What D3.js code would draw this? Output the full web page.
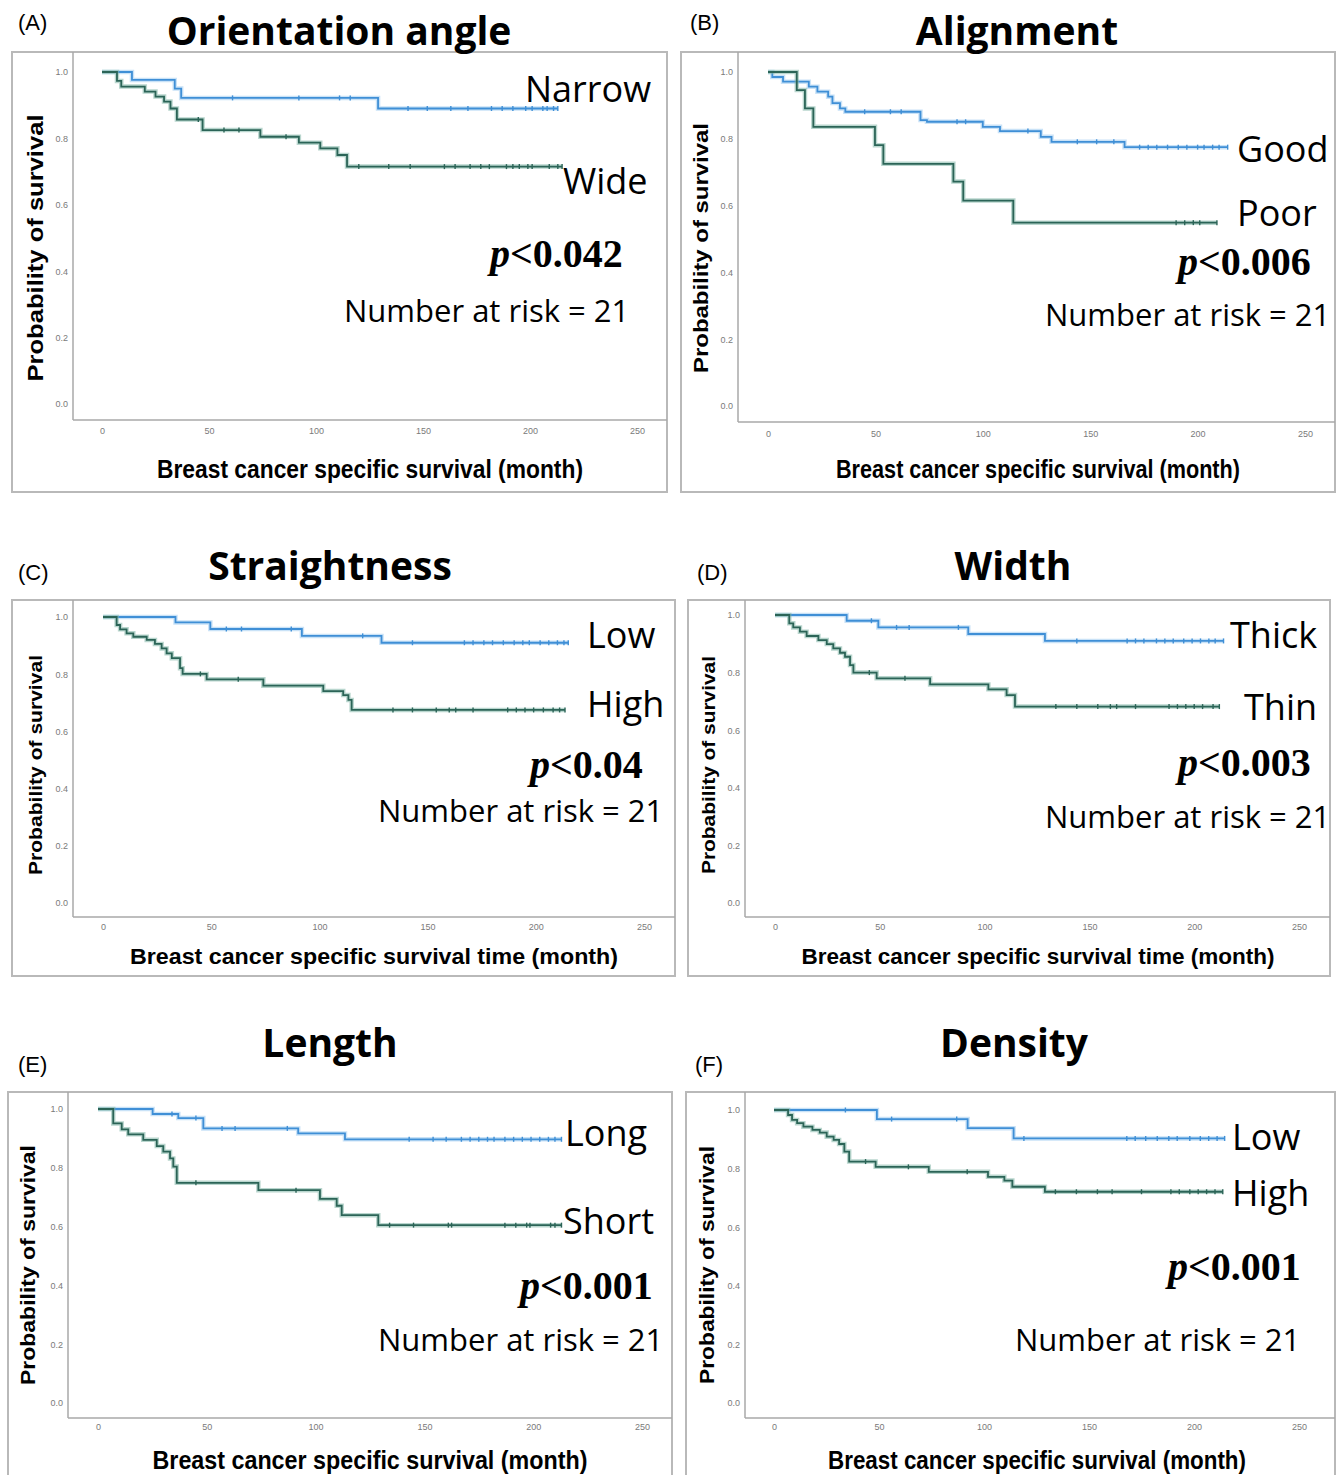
<!DOCTYPE html>
<html>
<head>
<meta charset="utf-8">
<script src="https://cdn.jsdelivr.net/npm/d3@7"></script>
<style>
  body { margin: 0; background: #fff; }
</style>
</head>
<body>
<svg id="chart" width="1343" height="1475"></svg>
<script>
// Kaplan-Meier curves, six fibre features
var panelLetters = ["(A)", "(B)", "(C)", "(D)", "(E)", "(F)"];
var panelTitles = ["Orientation angle", "Alignment", "Straightness", "Width", "Length", "Density"];
var groupLabels = [["Narrow", "Wide"], ["Good", "Poor"], ["Low", "High"], ["Thick", "Thin"], ["Long", "Short"], ["Low", "High"]];
var pValues = ["0.042", "0.006", "0.04", "0.003", "0.001", "0.001"];
var numberAtRisk = 21;
var xAxisTitles = [
  "Breast cancer specific survival (month)",
  "Breast cancer specific survival (month)",
  "Breast cancer specific survival time (month)",
  "Breast cancer specific survival time (month)",
  "Breast cancer specific survival (month)",
  "Breast cancer specific survival (month)"
];
var yAxisTitle = "Probability of survival";
var xTicks = [0, 50, 100, 150, 200, 250];
var yTicks = [0, 0.2, 0.4, 0.6, 0.8, 1.0];

// [time, survival] at each drop
var narrowSteps = [[0, 1], [14, 0.976], [34, 0.95], [37, 0.922], [129, 0.89]];
var narrowCensor = [61, 92, 111, 116, 143, 152, 163, 171, 182, 187, 192, 198, 201, 206, 208, 211, 213];
var wideSteps = [[0, 1], [7, 0.973], [9, 0.956], [20, 0.941], [25, 0.926], [29, 0.911], [32, 0.89], [35, 0.857],
  [47, 0.825], [74, 0.805], [92, 0.787], [102, 0.77], [110, 0.75], [114.5, 0.715]];
var wideCensor = [45, 57, 64, 86, 120, 134, 144, 160, 165, 172, 177, 181, 189, 192, 195, 199, 201, 209, 213, 215];

var goodSteps = [[0, 1], [2, 0.985], [7, 0.971], [19, 0.956], [23, 0.941], [28, 0.926], [30, 0.907], [33.5, 0.891],
  [36, 0.881], [71, 0.856], [74, 0.851], [100, 0.836], [108, 0.823], [127, 0.806], [132, 0.791], [166, 0.775]];
var goodCensor = [45, 57, 62, 88, 92, 121, 144, 153, 161, 173, 177, 181, 186, 191, 195, 200, 203, 207, 210, 214];
var poorSteps = [[0, 1], [13.4, 0.946], [17.2, 0.891], [21.1, 0.836], [49.8, 0.781], [53.7, 0.725], [86.3, 0.672],
  [90.9, 0.615], [114.2, 0.549]];
var poorCensor = [190, 194, 198, 201, 209];

var lowStraightSteps = [[0, 1], [33.5, 0.981], [49.6, 0.958], [91.9, 0.934], [128.7, 0.91]];
var lowStraightCensor = [57, 64, 87, 120, 143, 167, 171, 176, 180, 185, 190, 194, 197, 202, 206, 210, 213, 215];
var highStraightSteps = [[0, 1], [6.3, 0.972], [7.9, 0.957], [10.9, 0.943], [14, 0.931], [20.2, 0.92], [24, 0.906],
  [27.1, 0.89], [29.4, 0.873], [31.8, 0.856], [35.6, 0.821], [36.8, 0.801], [47.9, 0.782], [74.1, 0.76],
  [101.8, 0.741], [111, 0.727], [113.4, 0.71], [114.9, 0.675]];
var highStraightCensor = [45, 62.5, 134, 143, 154, 160, 163, 171, 187, 191, 195, 199, 203.5, 208, 211, 213.5];

var thickSteps = [[0, 1], [34.2, 0.98], [49.3, 0.957], [92.2, 0.934], [128.8, 0.91]];
var thickCensor = [46, 58, 64, 87.5, 144, 168, 172, 176, 182, 186, 190, 195, 199, 203, 207, 210, 214];
var thinSteps = [[0, 1], [6.8, 0.971], [8.7, 0.957], [11.9, 0.942], [15.1, 0.927], [20.7, 0.913], [24.7, 0.899],
  [27.8, 0.884], [31, 0.869], [33.4, 0.855], [35.8, 0.826], [37.4, 0.8], [48.5, 0.78], [74, 0.759],
  [101.8, 0.742], [110.5, 0.722], [114.5, 0.682]];
var thinCensor = [45, 62, 134, 144, 154, 160, 163, 172, 188, 192, 196, 200, 204, 209, 212];

var longSteps = [[0, 1], [25.1, 0.983], [36.9, 0.969], [48.4, 0.934], [92, 0.917], [113.5, 0.897]];
var longCensor = [34, 45, 57, 63, 87, 143, 154, 160, 167, 171, 175, 179, 182, 187, 191, 195, 199, 203, 207, 210, 213];
var shortSteps = [[0, 1], [7, 0.951], [10.9, 0.931], [13.9, 0.914], [20.8, 0.895], [27, 0.874], [30, 0.855],
  [33.1, 0.832], [34.6, 0.804], [36.2, 0.749], [73.7, 0.724], [102, 0.694], [109.7, 0.671], [112, 0.639],
  [128.8, 0.605]];
var shortCensor = [45, 91, 134, 145, 161, 162.5, 187, 192, 197, 198.5, 208, 210, 213];

var lowDensitySteps = [[0, 1], [49, 0.969], [92.2, 0.938], [114.1, 0.903]];
var lowDensityCensor = [34, 56, 87, 119, 168, 172, 177, 182.5, 188, 192, 198, 203, 207, 211, 214.6];
var highDensitySteps = [[0, 1], [6.7, 0.983], [8.6, 0.966], [11, 0.955], [14, 0.943], [18.3, 0.932], [21.8, 0.923],
  [25.1, 0.909], [28.4, 0.898], [31, 0.884], [33.5, 0.858], [35.8, 0.824], [48.4, 0.806], [73.7, 0.789],
  [101.9, 0.772], [109.7, 0.759], [113.5, 0.738], [129, 0.721]];
var highDensityCensor = [43.6, 64, 92, 134, 144, 154, 161, 175, 189, 193, 198, 202, 206, 210, 213.7];

var seriesSteps = [
  [narrowSteps, wideSteps], [goodSteps, poorSteps], [lowStraightSteps, highStraightSteps],
  [thickSteps, thinSteps], [longSteps, shortSteps], [lowDensitySteps, highDensitySteps]
];
var seriesCensor = [
  [narrowCensor, wideCensor], [goodCensor, poorCensor], [lowStraightCensor, highStraightCensor],
  [thickCensor, thinCensor], [longCensor, shortCensor], [lowDensityCensor, highDensityCensor]
];

(function() {
"use strict";

var colors = ["#3f8fd6", "#2b6457"];
var halos = ["#9ccbf0", "#7fb5a6"];

// page geometry for each panel
var layouts = [
  { frame: [12, 52, 667, 492], x: [102, 637], y: [404, 72], axisX: 73, axisY: 420, yTickX: 68, xTickY: 428,
    title: [339, 45], letter: [18, 30], yLab: [35, 248, 267, 22], xLab: [370, 478, 426, 26],
    g1: [525, 102], g2: [563, 194], p: [490, 267], n: [344, 322] },
  { frame: [681, 52, 1335, 492], x: [768, 1305], y: [406, 72], axisX: 738, axisY: 422, yTickX: 733, xTickY: 431,
    title: [1017, 45], letter: [690, 30], yLab: [700, 248, 250, 21], xLab: [1038, 478, 404, 25],
    g1: [1237, 162], g2: [1237, 226], p: [1178, 275], n: [1045, 326] },
  { frame: [12, 600, 675, 976], x: [103, 644], y: [903, 617], axisX: 73, axisY: 917, yTickX: 68, xTickY: 924,
    title: [330, 580], letter: [18, 580], yLab: [35, 765, 220, 19], xLab: [374, 964, 488, 22],
    g1: [587, 648], g2: [587, 717], p: [530, 778], n: [378, 822] },
  { frame: [688, 600, 1330, 976], x: [775, 1299], y: [903, 615], axisX: 745, axisY: 917, yTickX: 740, xTickY: 924,
    title: [1013, 580], letter: [697, 580], yLab: [708, 765, 218, 19], xLab: [1038, 964, 473, 22],
    g1: [1230, 648], g2: [1244, 720], p: [1178, 776], n: [1045, 828] },
  { frame: [8, 1092, 672, 1490], x: [98, 642], y: [1403, 1109], axisX: 68, axisY: 1418, yTickX: 63, xTickY: 1424,
    title: [330, 1057], letter: [18, 1072], yLab: [28, 1265, 240, 20], xLab: [370, 1469, 435, 25],
    g1: [565, 1146], g2: [563, 1234], p: [520, 1299], n: [378, 1351] },
  { frame: [686, 1092, 1335, 1490], x: [774, 1299], y: [1403, 1110], axisX: 745, axisY: 1418, yTickX: 740, xTickY: 1424,
    title: [1014, 1057], letter: [695, 1072], yLab: [707, 1265, 238, 20], xLab: [1037, 1469, 418, 25],
    g1: [1232, 1150], g2: [1232, 1206], p: [1168, 1280], n: [1015, 1351] }
];

var svg = d3.select("#chart");

layouts.forEach(drawPanel);

function survivalAt(steps, t) {
  var s = 1;
  steps.forEach(function(d) { if (d[0] <= t) s = d[1]; });
  return s;
}

function drawPanel(L, i) {
  var g = svg.append("g");
  var x = d3.scaleLinear().domain([0, 250]).range(L.x);
  var y = d3.scaleLinear().domain([0, 1]).range(L.y);

  g.append("rect")
    .attr("x", L.frame[0]).attr("y", L.frame[1])
    .attr("width", L.frame[2] - L.frame[0]).attr("height", L.frame[3] - L.frame[1])
    .attr("fill", "#fff").attr("stroke", "#b9b9b9").attr("stroke-width", 2);

  // axis lines
  g.append("line")
    .attr("x1", L.axisX).attr("x2", L.axisX)
    .attr("y1", L.frame[1]).attr("y2", L.axisY)
    .attr("stroke", "#a8a8a8").attr("stroke-width", 1.5);
  g.append("line")
    .attr("x1", L.axisX).attr("x2", L.frame[2])
    .attr("y1", L.axisY).attr("y2", L.axisY)
    .attr("stroke", "#a8a8a8").attr("stroke-width", 1.5);

  var yAxis = g.append("g")
    .attr("transform", "translate(" + L.yTickX + ",0)")
    .call(d3.axisLeft(y).tickValues(yTicks).tickFormat(d3.format(".1f")).tickSize(0).tickPadding(0));
  var xAxis = g.append("g")
    .attr("transform", "translate(0," + L.xTickY + ")")
    .call(d3.axisBottom(x).tickValues(xTicks).tickFormat(d3.format("d")).tickSize(0).tickPadding(0));
  [yAxis, xAxis].forEach(function(a) {
    a.select(".domain").remove();
    a.selectAll("text")
      .style("font-family", "'Liberation Sans Narrow', 'Liberation Sans', Arial, sans-serif")
      .style("font-size", "9px")
      .attr("fill", "#7a7a7a");
  });

  // curves
  var line = d3.line()
    .x(function(d) { return x(d[0]); })
    .y(function(d) { return y(d[1]); })
    .curve(d3.curveStepAfter);

  seriesSteps[i].forEach(function(steps, k) {
    var cens = seriesCensor[i][k];
    var end = d3.max(cens);
    var pts = steps.concat([[end, steps[steps.length - 1][1]]]);

    g.append("path").datum(pts)
      .attr("d", line).attr("fill", "none")
      .attr("stroke", halos[k]).attr("stroke-width", 4.5).attr("stroke-opacity", 0.55);
    g.append("path").datum(pts)
      .attr("d", line).attr("fill", "none")
      .attr("stroke", colors[k]).attr("stroke-width", 1.8);

    g.selectAll(null)
      .data(cens)
      .enter()
      .append("line")
      .attr("x1", function(t) { return x(t); })
      .attr("x2", function(t) { return x(t); })
      .attr("y1", function(t) { return y(survivalAt(steps, t)) - 2.5; })
      .attr("y2", function(t) { return y(survivalAt(steps, t)) + 2.5; })
      .attr("stroke", colors[k]).attr("stroke-width", 1.4);
  });

  // texts
  g.append("text")
    .attr("x", L.title[0]).attr("y", L.title[1])
    .attr("text-anchor", "middle")
    .style("font-family", "'Open Sans', 'Noto Sans', sans-serif")
    .style("font-weight", "bold").style("font-size", "39px")
    .text(panelTitles[i]);

  g.append("text")
    .attr("x", L.letter[0]).attr("y", L.letter[1])
    .style("font-family", "'Liberation Sans', Arial, sans-serif")
    .style("font-size", "22px")
    .text(panelLetters[i]);

  g.append("text")
    .attr("transform", "translate(" + (L.yLab[0] + L.yLab[3] * 0.36) + "," + L.yLab[1] + ") rotate(-90)")
    .attr("text-anchor", "middle")
    .attr("textLength", L.yLab[2]).attr("lengthAdjust", "spacingAndGlyphs")
    .style("font-family", "'Liberation Sans', Arial, sans-serif")
    .style("font-weight", "bold").style("font-size", L.yLab[3] + "px")
    .text(yAxisTitle);

  g.append("text")
    .attr("x", L.xLab[0] - L.xLab[2] / 2).attr("y", L.xLab[1])
    .attr("textLength", L.xLab[2]).attr("lengthAdjust", "spacingAndGlyphs")
    .style("font-family", "'Liberation Sans Narrow', 'Liberation Sans', Arial, sans-serif")
    .style("font-weight", "bold").style("font-size", L.xLab[3] + "px")
    .text(xAxisTitles[i]);

  [L.g1, L.g2].forEach(function(pos, k) {
    g.append("text")
      .attr("x", pos[0]).attr("y", pos[1])
      .style("font-family", "'Open Sans', 'Noto Sans', sans-serif")
      .style("font-size", "36px")
      .text(groupLabels[i][k]);
  });

  var pt = g.append("text")
    .attr("x", L.p[0]).attr("y", L.p[1])
    .style("font-family", "'Liberation Serif', 'Times New Roman', serif")
    .style("font-weight", "bold").style("font-size", "40px");
  pt.append("tspan").style("font-style", "italic").text("p");
  pt.append("tspan").text("<" + pValues[i]);

  g.append("text")
    .attr("x", L.n[0]).attr("y", L.n[1])
    .style("font-family", "'Open Sans', 'Noto Sans', sans-serif")
    .style("font-size", "31px")
    .text("Number at risk = " + numberAtRisk);
}

})();
</script>
</body>
</html>
